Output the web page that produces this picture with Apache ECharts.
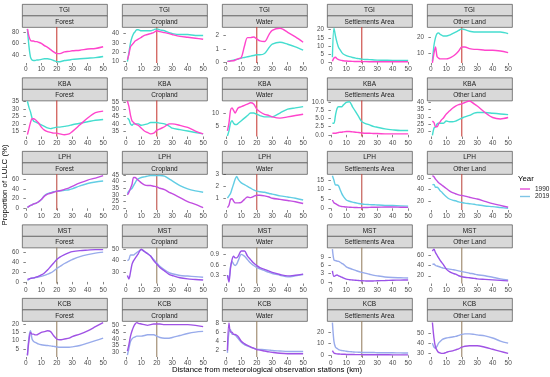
<!DOCTYPE html>
<html>
<head>
<meta charset="utf-8">
<script src="https://cdn.jsdelivr.net/npm/echarts@6.0.0/dist/echarts.min.js"></script>
<style>
html,body{margin:0;padding:0;background:#fff;}
#chart{width:550px;height:377px;}
</style>
</head>
<body>
<div id="chart"></div>
<script>
// ---------------- DATA ----------------
const sites = ['TGI', 'KBA', 'LPH', 'MST', 'KCB'];
const landClasses = ['Forest', 'Cropland', 'Water', 'Settlements Area', 'Other Land'];
const years = ['1990', '2019'];
const distanceKm = [1,2,3,4,5,6,7,8,10,12,14,16,18,20,22,25,28,30,35,40,45,50];
const xTickValues = [0,10,20,30,40,50];
const thresholdKm = 20;

// TGI
const tgiForest1990 = [85,72,65,64,64,63,63,62,60,56,53,49,45,42,42,45,46,47,48,50,51,54];
const tgiForest2019 = [85,55,36,31,30,30,31,31,32,33,33,32,30,28,28,30,31,32,33,34,35,37];
const tgiCropland1990 = [12,18,26,28,30,32,33,34,36,38,39,40,41,43,42,41,40,39,37,36,35,34];
const tgiCropland2019 = [10,20,30,36,40,42,44,44,43,43,43,43,44,45,44,43,41,40,39,39,38,38];
const tgiWater1990 = [0.05,0.05,0.08,0.1,0.1,0.15,0.2,0.25,0.35,1.2,1.85,1.85,1.9,1.75,1.6,1.55,2.1,2.4,2.55,2.25,1.9,1.5];
const tgiWater2019 = [0.05,0.08,0.1,0.12,0.15,0.18,0.2,0.22,0.3,0.35,0.4,0.45,0.5,0.55,0.55,0.65,1.1,1.35,1.5,1.35,1.15,0.9];
const tgiSettle1990 = [0.5,2.5,3,2,1.5,1.2,1,0.8,0.6,0.5,0.4,0.35,0.3,0.3,0.25,0.2,0.2,0.2,0.2,0.2,0.2,0.2];
const tgiSettle2019 = [3,21,16,12,9,7.5,6,5,4,3.3,2.8,2.4,2.1,1.8,1.6,1.5,1.3,1.2,1.1,1.0,1.0,1.0];
const tgiOther1990 = [4,10,14,8,7,6.5,6.5,6.5,6.5,7,8,9.5,11.5,14,14,13,12.5,12.5,12,12,11.5,10.5];
const tgiOther2019 = [5,15,20,22.5,23,22,21.5,21,21,21.5,22.5,23.5,24.5,25.5,25,24,23.5,23.5,23.5,23.5,23.5,22.5];
// KBA
const kbaForest1990 = [13,17,21,23.5,23.5,23,22,21,18,16,15,14.5,14,14,13.5,13,13.5,15,19.5,24,27.5,28.5];
const kbaForest2019 = [35,31,28,24,22,21.5,21,20.5,19.5,18.5,17.5,17,17.5,18,18,18.5,19,19.5,20.5,21.5,22.5,23];
const kbaCropland1990 = [56,52,46,42,41,40,39.5,39,37,35,34,33,33.5,35.5,36.5,38,40,40,39,37.5,35,33];
const kbaCropland2019 = [44,43,40,39,40,40,40,40,39,39.5,40,41,41,41,40.5,40,38.5,37,36,35,34,33];
const kbaWater1990 = [3,6,11,12,11,10,11,12,12.5,13,13.5,14,13.5,11.5,10.5,9.5,9,8.5,8,8.5,9,9.5];
const kbaWater2019 = [1,3,6,7,6,5.5,5.5,6,7,8,9,10,10,9.5,9,8.5,8.5,8.5,10,11.5,12,12.5];
const kbaSettle1990 = [0.5,0.5,0.5,0.6,0.7,0.8,0.8,0.9,1.0,1.0,0.9,0.8,0.7,0.6,0.5,0.5,0.4,0.4,0.3,0.3,0.3,0.3];
const kbaSettle2019 = [3.5,3.5,6,8,8.5,8.5,8.5,9,9.8,10,8.5,7,5.5,4,3.5,3,2.5,2.3,1.8,1.5,1.3,1.3];
const kbaOther1990 = [27,26,23,23,25,26.5,28,29,32,34,36,37.5,38.5,39,40,41,39,37.5,33,29.5,28.5,29.5];
const kbaOther2019 = [17,22,23,25,25.5,25.5,25.5,25.5,27,26.5,26.5,27,28,29,30,31,32.5,33,33,32.5,32,31.5];
// LPH
const lphForest1990 = [2,4,6,7,9,10,11,13,18,25,29,31,33,35,36,39,42,45,52,58,62,67];
const lphForest2019 = [2,4,6,7,9,10,11,13,18,26,30,32,34,35,36,37,38,40,46,51,54,56];
const lphCropland1990 = [30,32,35,38,43,43,42,41,39,37.5,37,37,36.5,36,35,34,32,31,28,25,23,20.5];
const lphCropland2019 = [31,33,34,35,37,39,41,42,43,43.5,44,44.5,44.5,44.5,44.5,44,42,40.5,37,34.5,33,32];
const lphWater1990 = [0.2,0.4,0.9,0.95,0.75,0.6,0.6,0.6,0.65,0.9,1.1,1.05,1.15,1.25,1.25,1.2,1.1,1.0,0.9,0.8,0.7,0.55];
const lphWater2019 = [1.0,1.2,1.4,1.8,2.2,2.6,2.85,2.6,2.3,2.15,2.0,1.85,1.7,1.6,1.55,1.5,1.4,1.35,1.2,1.1,1.0,0.85];
const lphSettle1990 = [4.5,3,2.5,2,1.5,1.2,1,0.9,0.7,0.6,0.5,0.45,0.4,0.4,0.45,0.5,0.6,0.6,0.7,0.7,0.6,0.5];
const lphSettle2019 = [17.5,15,12.5,12.5,12,10,8,6.5,4.5,3.8,3.3,3,2.6,2.3,2.1,2,1.9,1.8,1.6,1.5,1.3,1.2];
const lphOther1990 = [64,62,58,55,52,50,48,46,42,38,35,33,31,30,29,27,25,24,20,16,13,10];
const lphOther2019 = [48,49,44,44,42,38,36,33,28,24,22,21,19,18,17,16,15,14,12,11,9.5,8];
// MST
const mstForest1990 = [5,6,7,7.5,8,9,10,11,14,18,24,31,38,45,50,55,59,61,63,64,65,65];
const mstForest2019 = [3,5,7,8,8,8.5,9,9.5,11,13,15.5,18,22,27,31,37,42,45,51,55,58,60];
const mstCropland1990 = [27,24,30,37,40,42,44,46,50,48,46,44,40,37,34,31,28,27,25,24,23.5,23];
const mstCropland2019 = [40,41,45,45,45,46,47,48,49.5,48,46.5,44,41,38,35,32,29.5,28.5,27,26.5,26,25.5];
const mstWater1990 = [0.3,0.1,0.5,0.75,0.85,0.8,0.8,0.85,1.0,1.0,0.85,0.75,0.65,0.58,0.52,0.47,0.42,0.38,0.32,0.28,0.3,0.33];
const mstWater2019 = [0.3,0.2,0.55,0.7,0.62,0.58,0.62,0.72,0.9,0.85,0.75,0.65,0.58,0.52,0.48,0.43,0.38,0.35,0.3,0.25,0.28,0.32];
const mstSettle1990 = [4,2,2.3,2.5,2.2,2,1.7,1.5,1,0.8,0.7,0.6,0.5,0.4,0.35,0.3,0.35,0.4,0.5,0.6,0.65,0.7];
const mstSettle2019 = [12,8,7.8,7.6,7.5,7.2,6.8,6.5,5.5,5,4.6,4.2,3.8,3.5,3.2,2.8,2.4,2.2,1.8,1.6,1.5,1.4];
const mstOther1990 = [68,72,65,60,55,50,46,42,33,28,25,23,20,18,17,16,15,14,13,12,11,10];
const mstOther2019 = [42,43,40,39,38,37,36,35,34,33,32,31,29.5,28,27,25,23.5,22,20,17,14,12];
// KCB
const kcbForest1990 = [1,10,15,14,14,13.5,13.5,14,15,15.5,16,15.5,13,11,10.5,11,11.5,12.5,14,16,18.5,21];
const kcbForest2019 = [1,12,16,11,9.5,9,8.5,8,7.5,7.2,7,6.8,6.5,6.2,6,6,6,6.2,7,8.5,10,11.5];
const kcbCropland1990 = [31,36,42,46,49,51,52,51.5,51,50.5,50,50.5,51,51,51,50.5,50.5,50.5,50.5,50.5,50,49];
const kcbCropland2019 = [28,33,38,40,41,41.5,42,42,42,42.5,43,43,43,42,41,40.5,40.5,41,42.5,44,45,45.5];
const kcbWater1990 = [2,8,6,6,5.5,5.5,5.3,5,4,3.5,3.1,2.8,2.5,2.2,2.1,1.9,1.7,1.6,1.4,1.3,1.3,1.3];
const kcbWater2019 = [1.5,6,6.5,5.5,5.5,5.3,5,4.6,3.8,3.3,3,2.7,2.5,2.3,2.25,2.2,2.1,2,1.9,1.8,1.8,1.8];
const kcbSettle1990 = [4,2,1.5,1.3,1.2,1.1,1,1,0.8,0.75,0.7,0.65,0.6,0.6,0.55,0.55,0.5,0.5,0.5,0.45,0.4,0.4];
const kcbSettle2019 = [28,12,7,6,5,4.5,4.2,4,3.5,3.2,3,2.8,2.7,2.5,2.5,2.4,2.4,2.3,2.3,2.2,2.1,2];
const kcbOther1990 = [60,45,36,33,31,30.5,30,30,31,32,32.5,33.5,34.5,36,37,37.5,37.5,37.5,36,34,32,30];
const kcbOther2019 = [40,36,35,37,40,41.5,43,44,45,45.5,46,46.5,47.5,48.5,49,49,48.5,48,47,45,42,40];

// y-axis tick labels per panel (row = site, column = land class)
const yTicksTGI = [[40,60,80],[10,20,30,40],[0,1,2],[0,5,10,15,20],[10,20]];
const yTicksKBA = [[15,20,25,30,35],[35,40,45,50,55],[5,10],[0,2.5,5,7.5,10],[20,25,30,35,40]];
const yTicksLPH = [[0,20,40,60],[20,25,30,35,40,45],[1,2,3],[0,5,10,15],[20,40,60]];
const yTicksMST = [[0,20,40,60],[30,40,50],[0.3,0.6,0.9],[0,3,6,9],[20,40,60]];
const yTicksKCB = [[5,10,15,20],[30,35,40,45,50],[2,4,6,8],[0,10,20],[30,40,50]];
// y-axis limits per panel
const yLimitsTGI = [[25.7,88.4],[8.6,47],[-0.07,2.65],[-0.6,21.7],[3.9,26.7]];
const yLimitsKBA = [[11.8,35.5],[31.2,56.3],[0.8,14.9],[-0.5,10.4],[16.2,41.4]];
const yLimitsLPH = [[-3.4,70.4],[18.8,45.6],[0.0,3.05],[-0.9,18.4],[5.2,66.8]];
const yLimitsMST = [[-3.2,69.2],[20,51.5],[0.06,1.1],[-0.6,12.6],[4.9,75.1]];
const yLimitsKCB = [[0,22],[26.6,53.2],[0.6,8.4],[-1.4,29.4],[26.5,61.5]];

// ---------------- BUILD ----------------
const series1990 = [
  [tgiForest1990,tgiCropland1990,tgiWater1990,tgiSettle1990,tgiOther1990],
  [kbaForest1990,kbaCropland1990,kbaWater1990,kbaSettle1990,kbaOther1990],
  [lphForest1990,lphCropland1990,lphWater1990,lphSettle1990,lphOther1990],
  [mstForest1990,mstCropland1990,mstWater1990,mstSettle1990,mstOther1990],
  [kcbForest1990,kcbCropland1990,kcbWater1990,kcbSettle1990,kcbOther1990]
];
const series2019 = [
  [tgiForest2019,tgiCropland2019,tgiWater2019,tgiSettle2019,tgiOther2019],
  [kbaForest2019,kbaCropland2019,kbaWater2019,kbaSettle2019,kbaOther2019],
  [lphForest2019,lphCropland2019,lphWater2019,lphSettle2019,lphOther2019],
  [mstForest2019,mstCropland2019,mstWater2019,mstSettle2019,mstOther2019],
  [kcbForest2019,kcbCropland2019,kcbWater2019,kcbSettle2019,kcbOther2019]
];
const yTicks = [yTicksTGI,yTicksKBA,yTicksLPH,yTicksMST,yTicksKCB];
const yLimits = [yLimitsTGI,yLimitsKBA,yLimitsLPH,yLimitsMST,yLimitsKCB];

const rowColors = [
  {c1990:'#FF45CC', c2019:'#45DDCF', vline:'#C9423C'},
  {c1990:'#FF45CC', c2019:'#45DDCF', vline:'#C9423C'},
  {c1990:'#C24EE0', c2019:'#62CDE4', vline:'#BF5048'},
  {c1990:'#9A52E8', c2019:'#98ABEB', vline:'#9A8468'},
  {c1990:'#A052E4', c2019:'#98ABEB', vline:'#9A8468'}
];

const colLeft = [22, 122, 222, 327, 427];
const panelW = 85;
const rowTop = [4, 77.5, 151, 224.5, 298];
const stripH1 = 11.5, stripH2 = 11.5, plotH = 36;

const grids = [], xAxes = [], yAxes = [], seriesList = [], graphics = [];
const fontFam = 'Liberation Sans, Arial, sans-serif';
const tickColor = '#4D4D4D';

for (let r = 0; r < 5; r++) {
  for (let c = 0; c < 5; c++) {
    const idx = r * 5 + c;
    const gTop = rowTop[r] + stripH1 + stripH2;
    grids.push({left: colLeft[c], top: gTop, width: panelW, height: plotH, containLabel: false});
    xAxes.push({
      type: 'value', gridIndex: idx, min: -2.5, max: 52.5,
      axisLine: {show: false},
      axisTick: {show: true, customValues: xTickValues, length: 2.5, lineStyle: {color: '#333', width: 0.6}},
      axisLabel: {customValues: xTickValues, fontSize: 6.5, color: tickColor, margin: 3, fontFamily: fontFam,
        hideOverlap: false, showMinLabel: true, showMaxLabel: true},
      splitLine: {show: false}, axisPointer: {show: false}
    });
    const ticks = yTicks[r][c];
    const dec = (r === 1 && c === 3) || (r === 3 && c === 2) ? 1 : 0;
    const lim = yLimits[r][c];
    yAxes.push({
      type: 'value', gridIndex: idx, min: lim[0], max: lim[1],
      axisLine: {show: false},
      axisTick: {show: true, customValues: ticks, length: 2.5, lineStyle: {color: '#333', width: 0.6}},
      axisLabel: {customValues: ticks, fontSize: 6.3, color: tickColor, margin: 3, fontFamily: fontFam,
        hideOverlap: false, showMinLabel: true, showMaxLabel: true,
        formatter: v => Number(v).toFixed(dec)},
      splitLine: {show: false}, axisPointer: {show: false}
    });
    const col = rowColors[r];
    const d90 = distanceKm.map((x, i) => [x, series1990[r][c][i]]);
    const d19 = distanceKm.map((x, i) => [x, series2019[r][c][i]]);
    // vertical reference line at the threshold distance, spanning the panel's y limits
    seriesList.push({
      type: 'line', name: 'threshold', xAxisIndex: idx, yAxisIndex: idx,
      data: [[thresholdKm, lim[0]], [thresholdKm, lim[1]]],
      symbol: 'none', lineStyle: {color: col.vline, width: 1.1, type: 'solid'}, silent: true, animation: false,
      z: 1
    });
    seriesList.push({
      type: 'line', name: '2019', xAxisIndex: idx, yAxisIndex: idx, data: d19,
      smooth: 0.3, symbol: 'none', lineStyle: {color: col.c2019, width: 1.4}, silent: true, animation: false,
      z: 3
    });
    seriesList.push({
      type: 'line', name: '1990', xAxisIndex: idx, yAxisIndex: idx, data: d90,
      smooth: 0.3, symbol: 'none', lineStyle: {color: col.c1990, width: 1.4}, silent: true, animation: false,
      z: 4
    });
    // strips
    const sx = colLeft[c], sy = rowTop[r];
    graphics.push({type: 'rect', left: sx, top: sy, shape: {width: panelW, height: stripH1},
      style: {fill: '#D9D9D9', stroke: '#4D4D4D', lineWidth: 0.7}, silent: true});
    graphics.push({type: 'rect', left: sx, top: sy + stripH1, shape: {width: panelW, height: stripH2},
      style: {fill: '#D9D9D9', stroke: '#4D4D4D', lineWidth: 0.7}, silent: true});
    graphics.push({type: 'text', x: sx + panelW / 2, y: sy + stripH1 / 2 + 0.5,
      style: {text: sites[r], fill: '#1A1A1A', fontSize: 6.5, fontFamily: fontFam, align: 'center', verticalAlign: 'middle'}, silent: true});
    graphics.push({type: 'text', x: sx + panelW / 2, y: sy + stripH1 + stripH2 / 2 + 0.5,
      style: {text: landClasses[c], fill: '#1A1A1A', fontSize: 6.5, fontFamily: fontFam, align: 'center', verticalAlign: 'middle'}, silent: true});
  }
}

// axis titles
graphics.push({type: 'text', x: 267, y: 370,
  style: {text: 'Distance from meteorological observation stations (km)', fill: '#000', fontSize: 7.8, fontFamily: fontFam, align: 'center', verticalAlign: 'middle'}, silent: true});
graphics.push({type: 'text', x: 5, y: 185, rotation: Math.PI / 2,
  style: {text: 'Proportion of LULC (%)', fill: '#000', fontSize: 7.8, fontFamily: fontFam, align: 'center', verticalAlign: 'middle'}, silent: true});

// legend
graphics.push({type: 'text', x: 518, y: 179,
  style: {text: 'Year', fill: '#000', fontSize: 7.8, fontFamily: fontFam, align: 'left', verticalAlign: 'middle'}, silent: true});
const legendColors = ['#E24ED8', '#7FC4E6'];
years.forEach((yr, i) => {
  const ly = 189 + i * 7.5;
  graphics.push({type: 'line', shape: {x1: 520, y1: ly, x2: 530, y2: ly},
    style: {stroke: legendColors[i], lineWidth: 1.4}, silent: true});
  graphics.push({type: 'text', x: 535, y: ly,
    style: {text: yr, fill: '#1A1A1A', fontSize: 6.5, fontFamily: fontFam, align: 'left', verticalAlign: 'middle'}, silent: true});
});

const chart = echarts.init(document.getElementById('chart'), null, {renderer: 'canvas'});
chart.setOption({
  animation: false,
  backgroundColor: '#fff',
  grid: grids,
  xAxis: xAxes,
  yAxis: yAxes,
  series: seriesList,
  graphic: graphics
});
</script>
</body>
</html>
